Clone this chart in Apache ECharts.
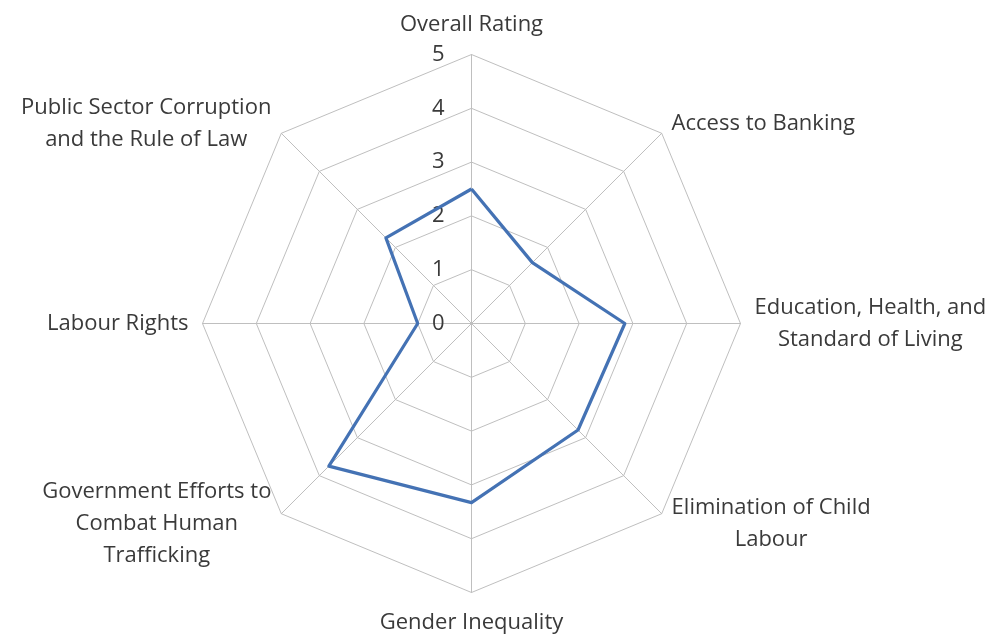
<!DOCTYPE html>
<html>
<head>
<meta charset="utf-8">
<script src="https://cdn.jsdelivr.net/npm/echarts@6/dist/echarts.min.js"></script>
<style>
  html, body { margin: 0; padding: 0; background: #ffffff; }
  #chart { width: 997px; height: 637px; }
</style>
</head>
<body>
<div id="chart"></div>
<script>
// Dimensions, listed clockwise starting from the top
const categories = [
  'Overall Rating',
  'Access to Banking',
  'Education, Health, and\nStandard of Living',
  'Elimination of Child\nLabour',
  'Gender Inequality',
  'Government Efforts to\nCombat Human\nTrafficking',
  'Labour Rights',
  'Public Sector Corruption\nand the Rule of Law'
];
const ratings = [2.5, 1.6, 2.85, 2.8, 3.33, 3.75, 1, 2.25];
const tickLabels = ['0', '1', '2', '3', '4', '5'];
const maxRating = 5;

// Radar indicators run counter-clockwise, so reverse everything after the first entry
function toCounterClockwise(arr) {
  return [arr[0]].concat(arr.slice(1).reverse());
}

const font = '"Open Sans", Lato, sans-serif';
const fontSize = 22;
const lineHeight = 32;
const textColor = '#3a3a3a';
const gridColor = '#bfbfbf';

const indicators = toCounterClockwise(categories).map(function (name, i) {
  const ind = { name: name, min: 0, max: maxRating };
  if (i === 0) {
    ind.axisLabel = {
      show: true,
      showMinLabel: true,
      showMaxLabel: true,
      margin: 27,
      fontSize: fontSize,
      fontFamily: font,
      color: textColor,
      formatter: function (v) { return tickLabels[Math.round(v)]; }
    };
  }
  return ind;
});

const chart = echarts.init(document.getElementById('chart'), null, { renderer: 'canvas' });
chart.setOption({
  animation: false,
  backgroundColor: '#ffffff',
  radar: {
    center: [471.5, 323.5],
    radius: 269,
    shape: 'polygon',
    splitNumber: 5,
    startAngle: 90,
    nameGap: 14,
    axisName: {
      color: textColor,
      fontSize: fontSize,
      fontFamily: font,
      lineHeight: lineHeight,
      formatter: function (name) {
        return name.split('\n').map(function (l) { return '{c|' + l + '}'; }).join('\n');
      },
      rich: {
        c: { align: 'center', color: textColor, fontSize: fontSize, fontFamily: font, lineHeight: lineHeight }
      }
    },
    axisLine: { lineStyle: { color: gridColor, width: 1 } },
    splitLine: { lineStyle: { color: gridColor, width: 1 } },
    splitArea: { show: false },
    axisTick: { show: false },
    axisLabel: { show: false },
    indicator: indicators
  },
  series: [{
    type: 'radar',
    symbol: 'none',
    lineStyle: { color: '#4472b4', width: 3.2 },
    data: [{ value: toCounterClockwise(ratings), name: 'Rating' }]
  }]
});
</script>
</body>
</html>
